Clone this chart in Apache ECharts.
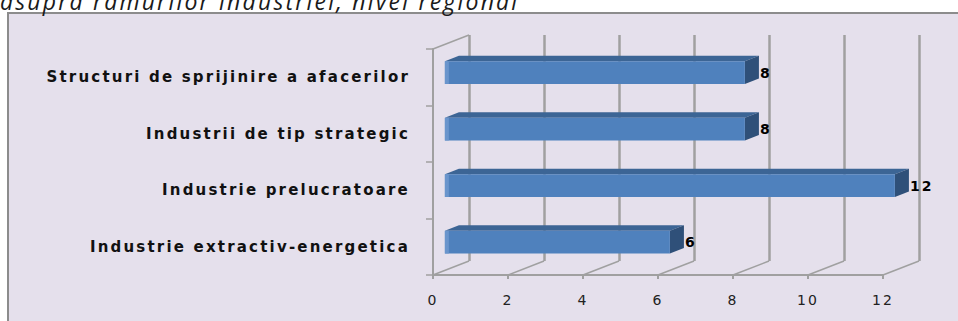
<!DOCTYPE html>
<html>
<head>
<meta charset="utf-8">
<script src="https://cdn.jsdelivr.net/npm/echarts@6/dist/echarts.min.js"></script>
<style>
html,body{margin:0;padding:0;background:#fff;}
#c{width:958px;height:321px;}
#c svg text{letter-spacing:2.2px;}
</style>
</head>
<body>
<div id="c"></div>
<script>
// ---- data ----
var categories = [
  "Structuri de sprijinire a afacerilor",
  "Industrii de tip strategic",
  "Industrie prelucratoare",
  "Industrie extractiv-energetica"
];
var values = [8, 8, 12, 6];
var xTicks = [0, 2, 4, 6, 8, 10, 12];
var titleText = "asupra ramurilor industriei, nivel regional";

// ---- style constants (3D depth) ----
var DEPTH = [36, -14];      // wall depth offset in px
var F1 = 0.33, F2 = 0.72;   // bar depth span as fraction of wall depth
var BAR_FRAC = 0.40;        // bar thickness relative to band

var chart = echarts.init(document.getElementById('c'), null, {renderer: 'svg'});

var barData = values.map(function (v, i) { return [v, i]; });
var floorData = xTicks.map(function (v) { return [v, 0]; });

var option = {
  animation: false,
  backgroundColor: '#ffffff',
  graphic: [
    {
      type: 'rect', z: -10, silent: true,
      shape: {x: 8, y: 13, width: 980, height: 340},
      style: {fill: '#e5e0ec', stroke: '#8c8c8c', lineWidth: 2}
    },
    {
      type: 'text', z: 10, silent: true,
      x: 0, y: 12,
      style: {
        text: titleText,
        font: 'italic 23px "Open Sans"',
        fill: '#1a1a1a',
        textVerticalAlign: 'bottom'
      }
    }
  ],
  grid: [
    {left: 433, width: 450, top: 49, height: 226, containLabel: false},
    {left: 469, width: 450, top: 35, height: 226, containLabel: false}
  ],
  xAxis: [
    {
      gridIndex: 0, type: 'value', min: 0, max: 12, interval: 2,
      axisLine: {show: true, lineStyle: {color: '#a0a0a0', width: 2}},
      axisTick: {show: true, length: 4, lineStyle: {color: '#a0a0a0', width: 2}},
      axisLabel: {show: true, margin: 18, fontSize: 14, fontFamily: 'DejaVu Sans', color: '#222'},
      splitLine: {show: false}
    },
    {
      gridIndex: 1, type: 'value', min: 0, max: 12, interval: 2,
      axisLine: {show: false}, axisTick: {show: false}, axisLabel: {show: false},
      splitLine: {show: true, lineStyle: {color: '#a0a0a0', width: 2.5}}
    }
  ],
  yAxis: [
    {
      gridIndex: 0, type: 'category', data: categories, inverse: true,
      axisLine: {show: true, lineStyle: {color: '#a0a0a0', width: 2}},
      axisTick: {show: true, length: 7, lineStyle: {color: '#a0a0a0', width: 1.5}},
      axisLabel: {margin: 23, fontSize: 15, fontWeight: 'bold', fontFamily: 'DejaVu Sans', color: '#111'},
      splitLine: {show: false}
    },
    {
      gridIndex: 1, type: 'category', data: categories, inverse: true,
      axisLine: {show: false}, axisTick: {show: false}, axisLabel: {show: false},
      splitLine: {show: false}
    }
  ],
  series: [
    {
      type: 'custom', xAxisIndex: 0, yAxisIndex: 0, z: 1, silent: true,
      data: floorData,
      renderItem: function (params, api) {
        var cs = params.coordSys;
        var v = api.value(0);
        var x = api.coord([v, 0])[0];
        var yb = cs.y + cs.height;
        var children = [{
          type: 'line',
          shape: {x1: x, y1: yb, x2: x + DEPTH[0], y2: yb + DEPTH[1]},
          style: {stroke: '#a0a0a0', lineWidth: 1.5}
        }];
        if (params.dataIndex === 0) {
          children.push({
            type: 'line',
            shape: {x1: x, y1: cs.y, x2: x + DEPTH[0], y2: cs.y + DEPTH[1]},
            style: {stroke: '#a0a0a0', lineWidth: 1.5}
          });
        }
        return {type: 'group', children: children};
      }
    },
    {
      type: 'custom', xAxisIndex: 0, yAxisIndex: 0, z: 5, silent: true,
      data: barData,
      renderItem: function (params, api) {
        var v = api.value(0), c = api.value(1);
        var pEnd = api.coord([v, c]);
        var pStart = api.coord([0, c]);
        var band = api.size([0, 1])[1];
        var h = band * BAR_FRAC;
        var ox = DEPTH[0] * F1, oy = DEPTH[1] * F1;
        var dx = DEPTH[0] * (F2 - F1), dy = DEPTH[1] * (F2 - F1);
        var x0 = pStart[0] + ox, x1 = pEnd[0] + ox;
        var yc = pEnd[1] + oy;
        var yt = yc - h / 2, yb = yc + h / 2;
        return {
          type: 'group',
          children: [
            {type: 'polygon', shape: {points: [[x0, yt], [x1, yt], [x1 + dx, yt + dy], [x0 + dx, yt + dy]]},
              style: {fill: '#3c6595'}},
            {type: 'polygon', shape: {points: [[x1, yt], [x1 + dx, yt + dy], [x1 + dx, yb + dy], [x1, yb]]},
              style: {fill: '#2f5079'}},
            {type: 'rect', shape: {x: x0, y: yt, width: x1 - x0, height: h},
              style: {fill: '#4f81bd'}},
            {type: 'rect', shape: {x: x0, y: yt, width: 4, height: h},
              style: {fill: '#6a95cc'}},
            {type: 'text', x: x1 + dx + 1, y: yc,
              style: {text: String(v), font: 'bold 14px "DejaVu Sans"', fill: '#000',
                textAlign: 'left', textVerticalAlign: 'middle'}}
          ]
        };
      }
    }
  ]
};
chart.setOption(option);
</script>
</body>
</html>
